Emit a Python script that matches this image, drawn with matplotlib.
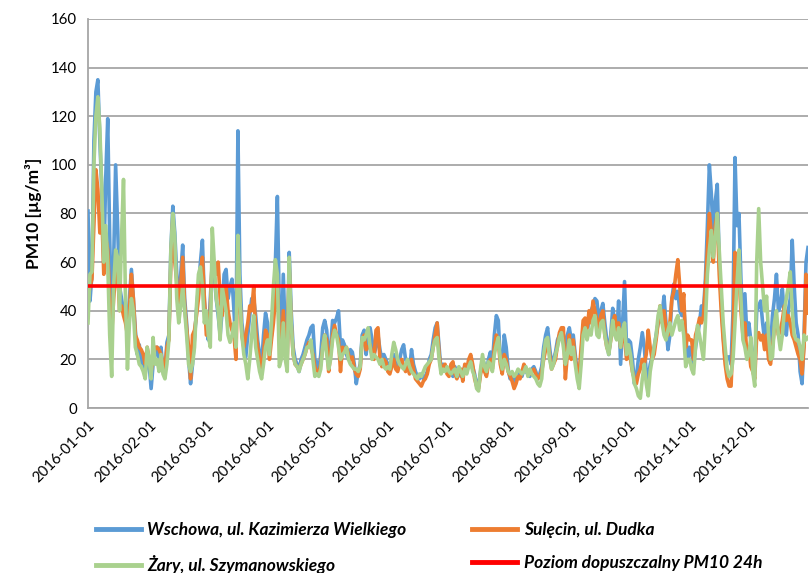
import matplotlib
matplotlib.use("Agg")
import matplotlib.pyplot as plt
import pandas as pd

dates = pd.date_range("2016-01-01", "2016-12-31", freq="D")

wschowa = [
    # Jan
    81, 44, 55, 110, 130, 135, 110, 90, 60, 95, 119, 70, 35, 60, 100, 75, 50, 45, 40, 38, 35, 45, 57, 45, 32, 22, 26, 18, 22, 14, 20,
    # Feb
    18, 8, 18, 22, 25, 20, 25, 16, 14, 27, 30, 65, 83, 72, 55, 40, 55, 67, 45, 35, 20, 10, 18, 29, 40, 50, 60, 69, 44,
    # Mar
    35, 28, 45, 60, 55, 45, 38, 30, 40, 55, 57, 45, 50, 53, 40, 25, 114, 55, 35, 28, 21, 30, 38, 45, 45, 38, 28, 22, 18, 30, 39,
    # Apr
    35, 24, 30, 40, 60, 87, 40, 25, 55, 30, 22, 64, 40, 25, 20, 18, 15, 20, 22, 25, 28, 30, 33, 34, 20, 19, 15, 22, 33, 36,
    # May
    32, 20, 25, 36, 35, 37, 40, 25, 28, 26, 22, 20, 24, 23, 18, 10, 15, 18, 30, 32, 22, 30, 33, 28, 22, 25, 30, 24, 20, 22, 20,
    # Jun
    18, 15, 20, 22, 18, 16, 20, 24, 26, 20, 18, 15, 24, 18, 15, 13, 12, 14, 12, 13, 15, 20, 22, 28, 33, 35, 25, 15, 18, 16,
    # Jul
    16, 14, 15, 13, 17, 14, 16, 13, 15, 17, 15, 18, 20, 17, 14, 10, 9, 15, 20, 18, 14, 20, 23, 18, 30, 38, 36, 20, 15, 30, 25,
    # Aug
    16, 12, 14, 11, 12, 15, 14, 13, 16, 15, 14, 13, 16, 17, 15, 12, 14, 17, 25, 30, 33, 25, 18, 20, 23, 28, 30, 32, 30, 22, 30,
    # Sep
    33, 28, 30, 22, 15, 12, 22, 34, 35, 30, 38, 40, 42, 45, 44, 35, 40, 43, 35, 28, 22, 30, 41, 36, 30, 44, 18, 35, 52, 25,
    # Oct
    28, 27, 20, 10, 13, 20, 25, 31, 25, 15, 12, 18, 21, 25, 30, 35, 40, 38, 46, 35, 24, 30, 45, 51, 45, 48, 40, 38, 42, 30, 20,
    # Nov
    25, 22, 18, 25, 30, 35, 42, 40, 53, 75, 100, 88, 70, 85, 92, 60, 45, 30, 20, 21, 21, 18, 40, 103, 75, 80, 53, 32, 47, 30,
    # Dec
    35, 28, 20, 15, 40, 42, 44, 35, 28, 35, 30, 25, 38, 45, 55, 40, 42, 49, 38, 30, 40, 45, 69, 50, 35, 30, 15, 10, 30, 60, 66,
]

sulecin = [
    # Jan
    45, 50, 53, 75, 98, 90, 72, 80, 55, 70, 65, 45, 30, 45, 55, 58, 40, 42, 38, 35, 30, 40, 55, 45, 30, 28, 25, 24, 22, 18, 25,
    # Feb
    20, 15, 20, 25, 25, 24, 22, 18, 16, 25, 28, 60, 78, 60, 52, 38, 50, 62, 42, 33, 25, 12, 30, 32, 38, 45, 55, 62, 45,
    # Mar
    30, 35, 40, 62, 60, 55, 60, 45, 38, 48, 50, 40, 35, 32, 30, 20, 60, 45, 30, 25, 30, 35, 42, 40, 50, 32, 25, 20, 15, 22, 32,
    # Apr
    30, 20, 28, 35, 45, 50, 30, 22, 40, 25, 20, 58, 35, 22, 18, 17, 16, 18, 20, 22, 25, 27, 25, 22, 17, 15, 14, 18, 25, 30,
    # May
    28, 15, 22, 30, 34, 30, 28, 15, 25, 24, 25, 22, 20, 21, 16, 14, 13, 16, 28, 30, 24, 25, 26, 22, 20, 32, 33, 20, 17, 20, 19,
    # Jun
    15, 14, 17, 20, 16, 15, 18, 20, 17, 15, 18, 14, 20, 16, 12, 11, 10, 9, 11, 12, 14, 18, 20, 25, 30, 35, 22, 16, 17, 18,
    # Jul
    14, 13, 18, 19, 14, 12, 15, 16, 11, 18, 16, 20, 22, 18, 12, 9, 8, 14, 18, 15, 13, 18, 20, 16, 25, 30, 28, 18, 14, 22, 20,
    # Aug
    15, 13, 11, 8, 10, 13, 12, 15, 18, 16, 15, 14, 15, 16, 14, 12, 13, 15, 20, 24, 28, 22, 16, 18, 20, 26, 31, 33, 33, 12, 22,
    # Sep
    30, 20, 28, 20, 15, 14, 25, 36, 37, 32, 40, 35, 44, 40, 36, 33, 38, 40, 30, 25, 23, 28, 35, 38, 32, 35, 25, 30, 29, 20,
    # Oct
    22, 20, 15, 12, 10, 14, 16, 20, 18, 22, 32, 25, 20, 22, 28, 35, 42, 35, 40, 33, 30, 35, 45, 48, 55, 61, 50, 40, 47, 25, 30,
    # Nov
    28, 28, 20, 30, 33, 37, 35, 38, 50, 65, 80, 72, 60, 75, 80, 55, 40, 28, 18, 12, 9, 9, 30, 64, 60, 55, 40, 30, 35, 22,
    # Dec
    25, 17, 15, 12, 30, 31, 28, 30, 24, 30, 20, 18, 25, 33, 36, 30, 32, 36, 42, 36, 38, 35, 30, 28, 25, 22, 20, 14, 25, 55, 39,
]

zary = [
    # Jan
    35, 55, 56, 100, 120, 128, 115, 90, 60, 75, 60, 30, 13, 50, 65, 62, 40, 70, 94, 45, 16, 35, 45, 40, 25, 22, 18, 17, 15, 12, 25,
    # Feb
    20, 12, 29, 18, 20, 15, 22, 14, 12, 18, 28, 65, 80, 70, 45, 35, 42, 50, 40, 30, 18, 15, 18, 25, 42, 55, 58, 50, 35,
    # Mar
    40, 30, 25, 74, 60, 45, 40, 28, 50, 45, 40, 30, 27, 30, 35, 25, 71, 45, 30, 22, 18, 12, 20, 30, 38, 25, 20, 15, 12, 18, 25,
    # Apr
    28, 22, 35, 50, 61, 55, 17, 20, 35, 20, 15, 62, 35, 22, 18, 17, 15, 18, 20, 22, 25, 25, 28, 20, 13, 14, 13, 16, 25, 30,
    # May
    22, 16, 20, 28, 32, 30, 25, 20, 22, 23, 25, 20, 18, 17, 16, 16, 15, 17, 29, 28, 30, 33, 25, 20, 22, 21, 20, 18, 20, 17, 16,
    # Jun
    17, 16, 22, 27, 24, 20, 18, 17, 16, 18, 20, 17, 15, 14, 13, 12, 14, 13, 15, 17, 18, 19, 20, 25, 28, 29, 20, 14, 16, 15,
    # Jul
    17, 15, 14, 15, 16, 13, 17, 15, 13, 16, 14, 17, 19, 15, 13, 8, 7, 16, 22, 17, 15, 19, 18, 15, 22, 26, 29, 20, 16, 20, 18,
    # Aug
    15, 14, 15, 13, 14, 16, 15, 14, 15, 17, 13, 16, 14, 13, 12, 10, 9, 12, 22, 28, 29, 20, 16, 18, 22, 25, 29, 31, 25, 18, 22,
    # Sep
    28, 22, 25, 18, 12, 8, 18, 30, 33, 28, 32, 30, 36, 38, 30, 29, 35, 36, 30, 25, 22, 28, 36, 30, 28, 33, 25, 32, 35, 22,
    # Oct
    26, 22, 15, 10, 8, 5, 4, 12, 18, 10, 5, 15, 20, 25, 30, 38, 42, 35, 30, 28, 32, 35, 30, 33, 36, 38, 32, 36, 30, 17, 20,
    # Nov
    20, 16, 14, 25, 34, 30, 25, 20, 35, 55, 65, 73, 62, 70, 80, 65, 50, 35, 25, 16, 13, 14, 20, 35, 51, 65, 45, 28, 25, 20,
    # Dec
    22, 29, 15, 9, 60, 82, 60, 50, 40, 46, 30, 20, 21, 35, 40, 30, 24, 30, 40, 45, 50, 56, 40, 30, 28, 28, 25, 20, 30, 28, 29,
]

limit_value = 50
series_names = ["Wschowa, ul. Kazimierza Wielkiego", "Sulęcin, ul. Dudka",
                "Żary, ul. Szymanowskiego", "Poziom dopuszczalny PM10 24h"]
series_colors = ["#5B9BD5", "#ED7D31", "#A9D18E", "#FF0000"]

plt.rcParams["font.family"] = ["Lato", "DejaVu Sans"]

fig = plt.figure(figsize=(8.09, 5.73), dpi=100)
ax = fig.add_axes([88 / 809, 1 - 408 / 573, (808 - 88) / 809, (408 - 19) / 573])

lines = []
for vals, name, col in zip([wschowa, sulecin, zary], series_names[:3], series_colors[:3]):
    l, = ax.plot(dates, vals, color=col, lw=2.6, label=name, solid_joinstyle="round", zorder=3)
    lines.append(l)
lim, = ax.plot(dates, [limit_value] * len(dates), color=series_colors[3], lw=2.6,
               label=series_names[3], zorder=4)
lines.append(lim)

ax.set_xlim(dates[0], dates[-1])
ax.set_ylim(0, 160)
ax.set_yticks(range(0, 161, 20))
ax.yaxis.grid(True, color="#A6A6A6", lw=1.3, zorder=0)
ax.set_axisbelow(True)
for s in ["top", "right"]:
    ax.spines[s].set_visible(False)
for s in ["left", "bottom"]:
    ax.spines[s].set_color("#A6A6A6")
    ax.spines[s].set_linewidth(1.3)

month_starts = pd.date_range("2016-01-01", "2016-12-01", freq="MS")
ax.set_xticks(month_starts)
ax.set_xticklabels([d.strftime("%Y-%m-%d") for d in month_starts], rotation=45,
                   ha="right", rotation_mode="anchor", fontsize=10.8)
ax.tick_params(axis="x", length=0, pad=7)
ax.tick_params(axis="y", length=0, labelsize=10.8, pad=8)
ax.set_ylabel("PM10 [µg/m³]", fontsize=12.5, fontweight="bold", labelpad=6)

# column-wise fill: col1 = Wschowa, Żary ; col2 = Sulęcin, Poziom
order = [0, 2, 1, 3]
leg = fig.legend(handles=[lines[i] for i in order], loc="upper left",
                 bbox_to_anchor=(82 / 809, 1 - 508 / 573),
                 ncol=2, frameon=False, handlelength=2.6, handletextpad=0.35,
                 columnspacing=3.8, labelspacing=1.0, borderpad=0.3,
                 prop={"style": "italic", "weight": "bold", "size": 12.5})
for h in leg.get_lines():
    h.set_linewidth(3.5)

fig.savefig("out.png", dpi=100)
